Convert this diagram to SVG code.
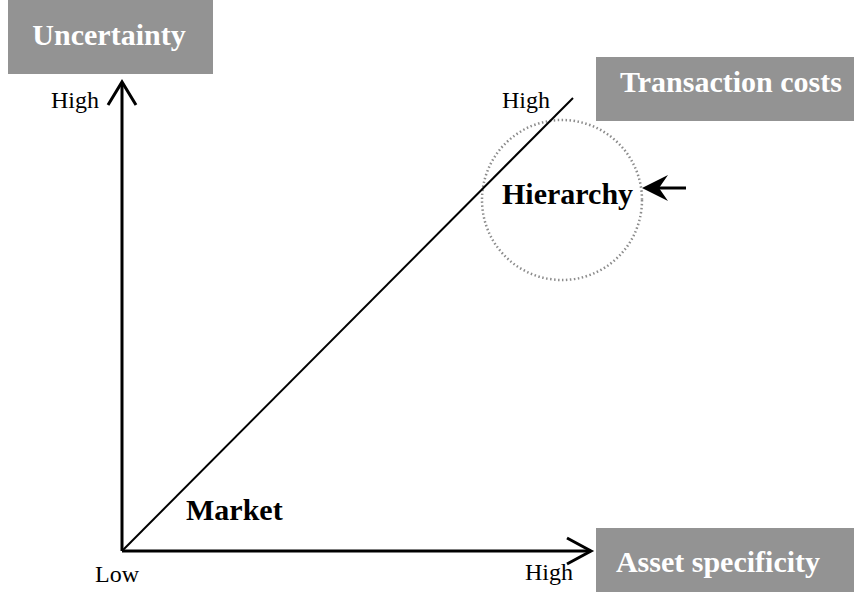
<svg xmlns="http://www.w3.org/2000/svg" width="854" height="592" viewBox="0 0 854 592">
<defs>
<style>
.box{fill:#939393}
.title{font-family:"Liberation Serif","Times New Roman",serif;font-weight:bold;font-size:30px;fill:#ffffff;text-anchor:middle}
.lbl{font-family:"Liberation Serif","Times New Roman",serif;font-size:24px;fill:#000000}
.big{font-family:"Liberation Serif","Times New Roman",serif;font-weight:bold;font-size:30px;fill:#000000}
.ax{stroke:#000;stroke-width:3;fill:none}
</style>
</defs>
<rect width="854" height="592" fill="#ffffff"/>
<g id="uncertainty">
<rect class="box" x="8" y="0" width="205" height="74"/>
<text class="title" x="109" y="45">Uncertainty</text>
</g>
<g id="transaction-costs">
<rect class="box" x="596" y="57" width="258" height="64"/>
<text class="title" x="731" y="92">Transaction costs</text>
</g>
<g id="asset-specificity">
<rect class="box" x="596" y="528" width="258" height="64"/>
<text class="title" x="718" y="572">Asset specificity</text>
</g>
<g id="hierarchy">
<circle cx="562" cy="200" r="80" fill="none" stroke="#8c8c8c" stroke-width="2.5" stroke-dasharray="1.5 2.5"/>
<text class="big" x="502" y="204">Hierarchy</text>
</g>
<g id="market">
<text class="big" x="186" y="520">Market</text>
</g>
<g id="labels">
<text class="lbl" x="51" y="108">High</text>
<text class="lbl" x="502" y="108">High</text>
<text class="lbl" x="95" y="582">Low</text>
<text class="lbl" x="525" y="580">High</text>
</g>
<g id="connectors">
<polyline class="ax" points="122,551 122,83"/>
<polyline class="ax" points="108,105 122,82 136,105"/>
<polyline class="ax" points="122,551 591,551"/>
<polyline class="ax" points="567,538 591,551 567,564"/>
<line x1="122" y1="551" x2="573" y2="98" stroke="#000" stroke-width="2"/>
<line x1="655" y1="188" x2="686" y2="188" stroke="#000" stroke-width="3"/>
<path d="M642,188 L668,175 L659,188 L668,201 Z" fill="#000"/>
</g>
</svg>
